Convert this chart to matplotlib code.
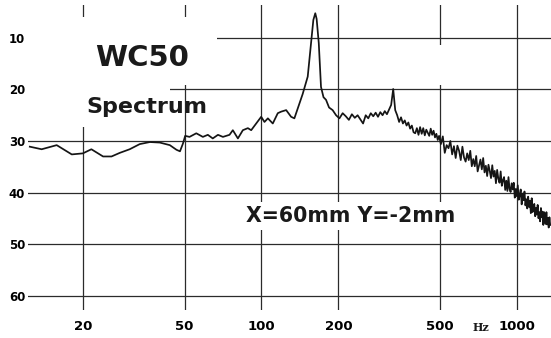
import matplotlib.pyplot as plt
from matplotlib.patches import Rectangle
from matplotlib.ticker import NullLocator
import numpy as np

# --- dados (Hz, dB) ---
freq_low = [12.4, 13.8, 15.8, 18.1, 20.0, 21.6, 24.0, 25.9, 27.9, 30.5, 33.4, 36.6,
            40.0, 43.8, 46.5, 48.0, 49.3, 50.3, 52.3, 55.6, 59.0, 61.7, 64.5, 67.6,
            70.7, 75.0, 77.3, 80.9, 84.6, 88.5, 91.2, 95.4, 99.8, 102.8, 106.0, 110.8,
            115.9, 119.5, 125.0, 130.7, 134.6, 138.7, 145.0, 151.8, 156.5, 159.7, 162.5,
            164.5, 167.7, 171.1, 175.0, 179.0, 184.0]
db_low = [31.1, 31.6, 30.8, 32.6, 32.4, 31.6, 33.0, 33.0, 32.3, 31.6, 30.6, 30.2,
          30.3, 30.8, 31.7, 32.0, 30.5, 29.0, 29.2, 28.5, 29.2, 28.8, 29.5, 28.8,
          29.2, 28.8, 27.9, 29.5, 27.9, 27.5, 27.9, 26.6, 25.3, 26.3, 25.6, 26.6,
          24.6, 24.3, 24.0, 25.3, 25.6, 23.7, 20.9, 17.5, 11.0, 6.5, 5.2,
          6.3, 11.0, 19.5, 21.5, 22.0, 23.5]

freq_mid = [190, 196, 202, 208, 214, 220, 226, 232, 238, 244, 250, 256, 262, 268, 274,
            280, 286, 292, 298, 304, 310, 316, 322, 328, 334, 340, 346, 352, 358, 364,
            370, 376, 382, 388, 394, 400, 406, 412, 418, 424, 430, 436, 442, 448, 454,
            460, 466, 472, 478, 484, 490, 496]
db_mid = [24.0, 25.0, 25.6, 24.6, 25.2, 25.9, 24.8, 25.5, 25.0, 25.8, 26.6, 25.0, 25.6,
          24.6, 25.2, 24.5, 25.3, 24.4, 25.0, 24.2, 24.8, 23.9, 23.0, 19.9, 24.0, 25.0,
          26.3, 25.4, 26.6, 26.0, 27.0, 26.4, 27.6, 27.0, 28.3, 28.5, 27.5, 28.8, 27.3,
          28.6, 27.5, 28.9, 27.8, 28.4, 29.0, 27.6, 28.8, 28.0, 29.3, 28.6, 29.8, 29.0]

freq_high = [504, 513, 522, 531, 540, 549, 558, 567, 576, 585, 594, 603, 612, 621, 630,
             639, 648, 657, 666, 675, 684, 693, 702, 711, 720, 729, 738, 747, 756, 765,
             774, 783, 792, 801, 810, 819, 828, 837, 846, 855, 864, 873, 882, 891, 900,
             909, 918, 927, 936, 945, 954, 963, 972, 981, 990, 999, 1008, 1017, 1026,
             1035, 1044, 1053, 1062, 1071, 1080, 1089, 1098, 1107, 1116, 1125, 1134,
             1143, 1152, 1161, 1170, 1179, 1188, 1197, 1206, 1215, 1224, 1233, 1242,
             1251, 1260, 1269, 1278, 1287, 1296, 1305, 1314, 1323, 1332, 1341, 1350]
db_high = [30.6, 29.1, 32.3, 30.8, 31.4, 30.0, 32.6, 31.0, 33.3, 30.9, 31.9, 33.7, 31.1,
           33.2, 34.0, 32.4, 33.7, 31.9, 34.9, 33.5, 34.9, 32.9, 35.9, 34.7, 33.6, 35.5,
           33.3, 36.1, 34.8, 36.8, 34.6, 35.8, 37.2, 34.7, 36.9, 35.8, 38.2, 35.6, 37.3,
           38.1, 35.9, 38.7, 37.6, 37.0, 39.5, 37.7, 39.7, 37.0, 39.3, 39.9, 38.2, 39.4,
           38.1, 41.0, 39.3, 40.7, 38.6, 41.4, 40.5, 39.4, 42.3, 40.2, 41.5, 39.8, 42.5,
           41.3, 43.1, 40.8, 42.8, 41.6, 44.0, 41.1, 43.8, 43.2, 42.2, 44.6, 43.0, 44.3,
           42.4, 45.0, 43.8, 45.6, 43.0, 44.8, 43.7, 46.3, 43.8, 45.5, 46.1, 43.8, 46.2,
           44.9, 46.8, 44.8, 46.3]

x_ticks = [20, 50, 100, 200, 500, 1000]
x_labels = ['20', '50', '100', '200', '500', '1000']
y_ticks = [10, 20, 30, 40, 50, 60]
y_labels = ['10', '20', '30', '40', '50', '60']

freq = freq_low + freq_mid + freq_high
db = db_low + db_mid + db_high

# --- figura ---
fig = plt.figure(figsize=(5.51, 3.38), dpi=100)
ax = fig.add_axes([28/551, 28/338, 523/551, 305/338])
ax.set_xscale('log')
ax.set_xlim(12.2, 1360)
ax.set_ylim(62.8, 3.6)
ax.xaxis.set_minor_locator(NullLocator())
ax.set_xticks(x_ticks)
ax.set_xticklabels(x_labels, fontsize=9.5, fontweight='bold')
ax.set_yticks(y_ticks)
ax.set_yticklabels(y_labels, fontsize=8.5, fontweight='bold')
ax.tick_params(axis='x', length=0, pad=7)
ax.tick_params(axis='y', length=0, pad=2)
for s in ax.spines.values():
    s.set_visible(False)
ax.grid(True, color='#2b2b2b', linewidth=0.9)

# areas apagadas da grade (atras dos titulos)
for (x0, y0, w, h) in [(0, 0.738, 0.361, 0.223), (0, 0.60, 0.272, 0.138), (0.78, 0.738, 0.019, 0.131)]:
    ax.add_patch(Rectangle((x0, y0), w, h, transform=ax.transAxes, facecolor='white',
                           edgecolor='none', zorder=2))

ax.plot(freq, db, color='#151515', linewidth=1.25, zorder=3)

ax.text(0.218, 0.80, 'WC50', transform=ax.transAxes, ha='center', va='baseline',
        fontsize=21, fontweight='bold', color='#1a1a1a', zorder=4)
ax.text(0.228, 0.646, 'Spectrum', transform=ax.transAxes, ha='center', va='baseline',
        fontsize=16, fontweight='bold', color='#1a1a1a', zorder=4)
ax.text(0.417, 0.289, 'X=60mm Y=-2mm', transform=ax.transAxes, ha='left', va='baseline',
        fontsize=14.8, fontweight='bold', color='#1a1a1a', zorder=4,
        bbox=dict(facecolor='white', edgecolor='none', pad=3))
ax.text(723, -0.056, 'Hz', transform=ax.get_xaxis_transform(), ha='center', va='center',
        fontsize=8, fontweight='bold', family='DejaVu Serif', color='#1a1a1a')

plt.savefig('out.png', dpi=100)
